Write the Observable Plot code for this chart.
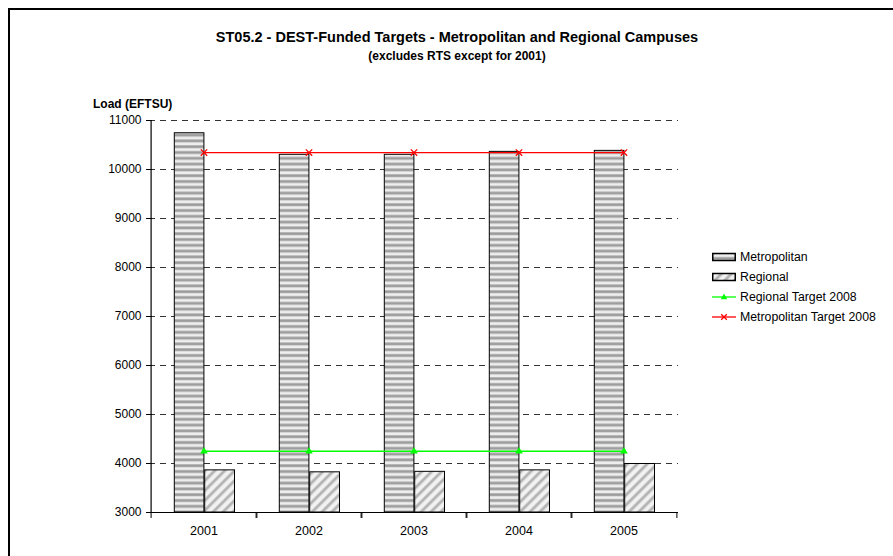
<!DOCTYPE html>
<html>
<head>
<meta charset="utf-8">
<script src="https://cdn.jsdelivr.net/npm/d3@7"></script>
<script src="https://cdn.jsdelivr.net/npm/@observablehq/plot@0.6"></script>
<style>
  html, body { margin: 0; padding: 0; background: #fff; overflow: hidden; }
  #page { position: relative; width: 893px; height: 556px; font-family: Arial, "Liberation Sans", sans-serif; color: #000; }
  #border { position: absolute; left: 8px; top: 8px; width: 1000px; height: 1000px; border: 2px solid #000; box-sizing: border-box; z-index: 3; pointer-events: none; }
  #chart { position: absolute; left: 0; top: 0; }
  .title { position: absolute; left: 0; width: 914px; text-align: center; font-weight: bold; line-height: 1; white-space: nowrap; }
  #ylabel { position: absolute; left: 93px; top: 97.5px; font-size: 12px; font-weight: bold; line-height: 1; }
  #legend { position: absolute; left: 712px; top: 247px; font-size: 12.3px; }
  .row { display: flex; align-items: center; height: 20px; white-space: nowrap; }
  .row svg { display: block; margin-right: 4px; }
</style>
</head>
<body>
<svg width="0" height="0" style="position:absolute">
  <defs>
    <pattern id="metroPat" patternUnits="userSpaceOnUse" width="6" height="5.8">
      <rect width="6" height="5.8" fill="#eeeeee"/>
      <rect y="0" width="6" height="3.4" fill="#c6c6c6"/>
      <rect y="0.6" width="6" height="2.2" fill="#9c9c9c"/>
    </pattern>
    <pattern id="regPat" patternUnits="userSpaceOnUse" width="7" height="7" patternTransform="rotate(45)">
      <rect width="7" height="7" fill="#f2f2f2"/>
      <rect x="0" width="3.4" height="7" fill="#cfcfcf"/>
      <rect x="0.7" width="2" height="7" fill="#b0b0b0"/>
    </pattern>
  </defs>
</svg>
<div id="page">
  <div id="chart"></div>
  <div class="title" style="top:29.5px;font-size:14.5px">ST05.2 - DEST-Funded Targets - Metropolitan and Regional Campuses</div>
  <div class="title" style="top:50px;font-size:12px">(excludes RTS except for 2001)</div>
  <div id="ylabel">Load (EFTSU)</div>
  <div id="legend"></div>
  <div id="border"></div>
</div>
<script>
// ---- data ----
const years = ["2001", "2002", "2003", "2004", "2005"];
const metropolitan = [10740, 10300, 10300, 10360, 10380];
const regional = [3860, 3820, 3830, 3860, 3990];
const regionalTarget2008 = [4250, 4250, 4250, 4250, 4250];
const metropolitanTarget2008 = [10345, 10345, 10345, 10345, 10345];
const yTicks = [3000, 4000, 5000, 6000, 7000, 8000, 9000, 10000, 11000];
const seriesNames = ["Metropolitan", "Regional", "Regional Target 2008", "Metropolitan Target 2008"];

const yMin = yTicks[0], yMax = yTicks[yTicks.length - 1];
const rows = years.map((year, i) => ({
  year,
  metro: metropolitan[i],
  regional: regional[i],
  regTarget: regionalTarget2008[i],
  metroTarget: metropolitanTarget2008[i]
}));

const W = 893, H = 556, mL = 149, mR = 215, mT = 120, mB = 44;
const half = (W - mL - mR) / years.length / 2;

const chart = Plot.plot({
  width: W,
  height: H,
  marginLeft: mL,
  marginRight: mR,
  marginTop: mT,
  marginBottom: mB,
  x: { type: "band", domain: years, padding: 0, label: null },
  y: { domain: [yMin, yMax], label: null },
  style: { fontFamily: "Arial, 'Liberation Sans', sans-serif", fontSize: "12px", color: "#000", background: "none" },
  marks: [
    Plot.gridY(yTicks.slice(1), { stroke: "#333", strokeOpacity: 1, strokeDasharray: "6,5" }),
    Plot.barY(rows, { x: "year", y1: () => yMin, y2: "metro", fill: "url(#metroPat)", stroke: "#000", strokeWidth: 1, insetLeft: 23.3, insetRight: 52.1 }),
    Plot.barY(rows, { x: "year", y1: () => yMin, y2: "regional", fill: "url(#regPat)", stroke: "#000", strokeWidth: 1, insetLeft: 53.7, insetRight: 21.5 }),
    Plot.line(rows, { x: "year", y: "regTarget", stroke: "#00ff00", strokeWidth: 1.3 }),
    Plot.dot(rows, { x: "year", y: "regTarget", symbol: "triangle", fill: "#00ff00", stroke: "none", r: 2.8 }),
    Plot.line(rows, { x: "year", y: "metroTarget", stroke: "#ff0000", strokeWidth: 1.3 }),
    Plot.dot(rows, { x: "year", y: "metroTarget", symbol: "times", stroke: "#ff0000", strokeWidth: 1.3, r: 3 }),
    // axis lines
    Plot.ruleY([yMin], { stroke: "#000", strokeWidth: 1.2 }),
    Plot.ruleX(years.slice(0, 1), { x: d => d, dx: -half, y1: () => yMin, y2: () => yMax, stroke: "#000", strokeWidth: 1.2 }),
    // y axis: crossing ticks and labels
    Plot.axisY(yTicks, { tickSize: 6, dx: 3, tickFormat: () => "", stroke: "#000" }),
    Plot.axisY(yTicks, { tickSize: 0, tickPadding: 8, fontSize: 12, tickFormat: d => String(d) }),
    // x axis: ticks on category boundaries and centered labels
    Plot.axisX({ tickSize: 6, dx: -half, tickFormat: () => "", stroke: "#000" }),
    Plot.axisX({ tickSize: 6, dx: half, tickFormat: () => "", stroke: "#000" }),
    Plot.axisX({ tickSize: 0, tickPadding: 14, fontSize: 12.5 })
  ]
});
document.getElementById("chart").appendChild(chart);

// ---- legend ----
const swatches = [
  `<svg width="24" height="12"><rect x="0.75" y="2.5" width="22.5" height="7" fill="url(#metroPat)" stroke="#000" stroke-width="1.5"/></svg>`,
  `<svg width="24" height="12"><rect x="0.75" y="2.5" width="22.5" height="7" fill="url(#regPat)" stroke="#000" stroke-width="1.5"/></svg>`,
  `<svg width="24" height="12"><line x1="0" x2="24" y1="6" y2="6" stroke="#00ff00" stroke-width="1.3"/><path d="M12,2.6L15.2,8.2L8.8,8.2Z" fill="#00ff00"/></svg>`,
  `<svg width="24" height="12"><line x1="0" x2="24" y1="6" y2="6" stroke="#ff0000" stroke-width="1.3"/><path d="M9.2,3.2L14.8,8.8M14.8,3.2L9.2,8.8" stroke="#ff0000" stroke-width="1.3"/></svg>`
];
document.getElementById("legend").innerHTML = seriesNames
  .map((name, i) => `<div class="row">${swatches[i]}<span>${name}</span></div>`)
  .join("");
</script>
</body>
</html>
